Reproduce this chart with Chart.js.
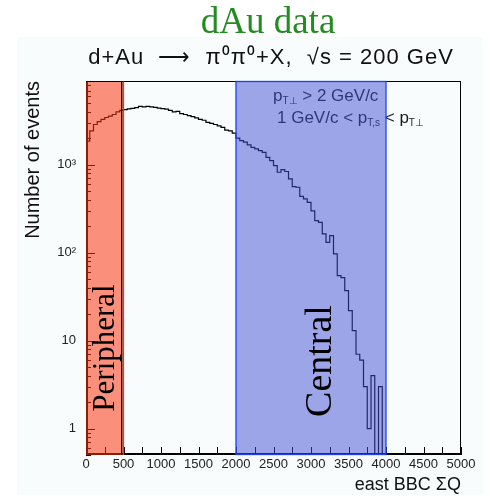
<!DOCTYPE html>
<html>
<head>
<meta charset="utf-8">
<script src="https://cdn.jsdelivr.net/npm/chart.js@4.4.1/dist/chart.umd.min.js"></script>
<style>
  html, body { margin: 0; padding: 0; background: #fff; }
  #wrap { width: 490px; height: 500px; }
</style>
</head>
<body>
<div id="wrap"><canvas id="bbc" width="490" height="500"></canvas></div>
<script>
// east BBC charge sum, lower bin edges (bins are 50 wide)
const binWidth = 50;
const binEdges = [
  0, 50, 100, 150, 200, 250, 300, 350, 400, 450,
  500, 550, 600, 650, 700, 750, 800, 850, 900, 950,
  1000, 1050, 1100, 1150, 1200, 1250, 1300, 1350, 1400, 1450,
  1500, 1550, 1600, 1650, 1700, 1750, 1800, 1850, 1900, 1950,
  2000, 2050, 2100, 2150, 2200, 2250, 2300, 2350, 2400, 2450,
  2500, 2550, 2600, 2650, 2700, 2750, 2800, 2850, 2900, 2950,
  3000, 3050, 3100, 3150, 3200, 3250, 3300, 3350, 3400, 3450,
  3500, 3550, 3600, 3650, 3700, 3750, 3800, 3850, 3900, 3950
];
// events per bin
const counts = [
  1860, 2440, 2880, 3100, 3300, 3460, 3580, 3740, 4000, 4170,
  4250, 4330, 4400, 4480, 4620, 4560, 4620, 4560, 4500, 4420,
  4360, 4300, 4170, 4000, 4060, 3830, 3740, 3630, 3530, 3420,
  3300, 3220, 3050, 2960, 2880, 2780, 2670, 2480, 2440, 2300,
  2010, 1890, 1810, 1690, 1585, 1520, 1455, 1390, 1220, 1120,
  980, 824, 884, 840, 692, 566, 556, 438, 410, 375,
  300, 232, 222, 164, 131, 157, 97, 55, 52, 37,
  22, 13, 7, 6, 3, 1, 4, 0, 3, 0
];
// centrality windows
const peripheralRange = [0, 500];
const centralRange = [2000, 4000];
// decade labels on the y axis
const yTickLabels = { 1: '1', 10: '10', 100: '10²', 1000: '10³' };

// empty bins fall through the bottom of the log axis
const shown = c => (c > 0 ? c : 0.1);
const points = binEdges.map((e, i) => ({ x: e, y: shown(counts[i]) }));
points.push({ x: binEdges[binEdges.length - 1] + binWidth, y: shown(counts[counts.length - 1]) });

function drawSubText(ctx, x, y, parts, size) {
  ctx.textAlign = 'left';
  ctx.textBaseline = 'alphabetic';
  for (const p of parts) {
    if (p.sub) {
      ctx.font = Math.round(size * 0.6) + 'px "Liberation Sans", Arial, sans-serif';
      ctx.fillText(p.t, x, y + size * 0.2);
    } else {
      ctx.font = size + 'px "Liberation Sans", Arial, sans-serif';
      ctx.fillText(p.t, x, y);
    }
    x += ctx.measureText(p.t).width;
  }
}

const decor = {
  id: 'decor',
  beforeDraw(chart) {
    const ctx = chart.ctx;
    ctx.save();
    ctx.fillStyle = '#fff';
    ctx.fillRect(0, 0, chart.width, chart.height);
    ctx.fillStyle = '#f8fcfc';
    ctx.fillRect(17, 37, 466, 458);

    ctx.textAlign = 'center';
    ctx.textBaseline = 'alphabetic';
    ctx.fillStyle = '#228b22';
    ctx.font = '37px "Liberation Serif", "Times New Roman", serif';
    ctx.fillText('dAu data', 268, 33);

    ctx.fillStyle = '#111';
    ctx.font = '22px "Liberation Sans", Arial, sans-serif';
    ctx.letterSpacing = '1px';
    ctx.fillText('d+Au  \u27F6  \u03C0\u2070\u03C0\u2070+X,  \u221As = 200 GeV', 271, 64);
    ctx.letterSpacing = '0px';
    ctx.restore();
  },
  afterDraw(chart) {
    const { ctx, chartArea: a, scales: { x, y } } = chart;
    ctx.save();

    // tick marks inside the frame
    ctx.strokeStyle = '#000';
    ctx.lineWidth = 1;
    ctx.beginPath();
    x.ticks.forEach(t => {
      const px = Math.round(x.getPixelForValue(t.value)) + 0.5;
      ctx.moveTo(px, a.bottom);
      ctx.lineTo(px, a.bottom - 8);
    });
    y.ticks.forEach(t => {
      const e = Math.floor(Math.log10(t.value) + 1e-9);
      const m = t.value / Math.pow(10, e);
      if (Math.abs(m - Math.round(m)) > 1e-6) return;
      const py = Math.round(y.getPixelForValue(t.value)) + 0.5;
      ctx.moveTo(a.left, py);
      ctx.lineTo(a.left + (Math.round(m) === 1 ? 9 : 5), py);
    });
    ctx.stroke();

    // frame
    ctx.lineWidth = 1;
    ctx.strokeRect(a.left + 0.5, a.top + 0.5, a.right - a.left - 1, a.bottom - a.top - 1);
    ctx.lineWidth = 2;
    ctx.beginPath();
    ctx.moveTo(a.left + 1, a.top);
    ctx.lineTo(a.left + 1, a.bottom - 1);
    ctx.lineTo(a.right, a.bottom - 1);
    ctx.stroke();

    // cut text
    ctx.fillStyle = '#1a1a1a';
    drawSubText(ctx, 273, 101, [{ t: 'p' }, { t: 'T\u22A5', sub: true }, { t: ' > 2 GeV/c' }], 17);
    drawSubText(ctx, 277, 123, [{ t: '1 GeV/c < p' }, { t: 'T,s', sub: true }, { t: ' < p' }, { t: 'T\u22A5', sub: true }], 17);

    // centrality windows laid over everything
    const pl = x.getPixelForValue(peripheralRange[0]);
    const pr = x.getPixelForValue(peripheralRange[1]);
    const cl = x.getPixelForValue(centralRange[0]);
    const cr = x.getPixelForValue(centralRange[1]);
    ctx.fillStyle = 'rgba(252,54,16,0.55)';
    ctx.fillRect(pl, a.top, pr - pl, a.bottom - a.top);
    ctx.fillStyle = 'rgba(66,78,214,0.5)';
    ctx.fillRect(cl, a.top, cr - cl, a.bottom - a.top);

    ctx.lineWidth = 1.2;
    ctx.strokeStyle = '#e03a20';
    ctx.beginPath();
    ctx.moveTo(pr, a.top); ctx.lineTo(pr, a.bottom);
    ctx.stroke();
    ctx.strokeStyle = '#000';
    ctx.beginPath();
    ctx.moveTo(pr - 1.8, a.top); ctx.lineTo(pr - 1.8, a.bottom);
    ctx.moveTo(pl, a.top + 0.5); ctx.lineTo(pr, a.top + 0.5);
    ctx.stroke();
    ctx.strokeStyle = '#1f3ff0';
    ctx.lineWidth = 1.3;
    ctx.strokeRect(cl, a.top + 0.5, cr - cl, a.bottom - a.top - 1);

    // region names
    ctx.fillStyle = '#000';
    ctx.textAlign = 'center';
    ctx.textBaseline = 'alphabetic';
    ctx.save();
    ctx.translate(113.5, 348);
    ctx.rotate(-Math.PI / 2);
    ctx.font = '31px "Liberation Serif", "Times New Roman", serif';
    ctx.fillText('Peripheral', 0, 0);
    ctx.restore();
    ctx.save();
    ctx.translate(331, 361);
    ctx.rotate(-Math.PI / 2);
    ctx.font = '38px "Liberation Serif", "Times New Roman", serif';
    ctx.fillText('Central', 0, 0);
    ctx.restore();

    ctx.restore();
  }
};

const ctx = document.getElementById('bbc').getContext('2d');
const chart = new Chart(ctx, {
  type: 'line',
  data: {
    datasets: [{
      label: 'events',
      data: points,
      stepped: 'before',
      borderColor: '#000',
      borderWidth: 1.2,
      pointRadius: 0,
      fill: false
    }]
  },
  options: {
    responsive: false,
    devicePixelRatio: 1,
    animation: false,
    layout: { padding: { top: 81, right: 29, left: 0, bottom: 0 } },
    plugins: { legend: { display: false }, tooltip: { enabled: false } },
    scales: {
      x: {
        type: 'linear',
        min: 0,
        max: 5000,
        grid: { display: false, drawTicks: false },
        border: { display: false },
        ticks: {
          stepSize: 250,
          autoSkip: false,
          maxRotation: 0,
          padding: 2,
          color: '#222',
          font: { family: '"Liberation Sans", Arial, sans-serif', size: 13 },
          callback: v => (v % 500 === 0 ? String(v) : '')
        },
        title: {
          display: true,
          text: 'east BBC \u03A3Q',
          align: 'end',
          color: '#111',
          padding: { top: 0, bottom: 4 },
          font: { family: '"Liberation Sans", Arial, sans-serif', size: 18 }
        },
        afterFit: s => { s.height = 45; }
      },
      y: {
        type: 'logarithmic',
        min: 0.5,
        max: 9000,
        grid: { display: false, drawTicks: false },
        border: { display: false },
        ticks: {
          autoSkip: false,
          padding: 10,
          color: '#222',
          font: { family: '"Liberation Sans", Arial, sans-serif', size: 13 },
          callback: v => yTickLabels[v] || ''
        },
        title: {
          display: true,
          text: 'Number of events',
          align: 'end',
          color: '#111',
          padding: { top: 21, bottom: 0 },
          font: { family: '"Liberation Sans", Arial, sans-serif', size: 20 }
        },
        afterFit: s => { s.width = 86; }
      }
    }
  },
  plugins: [decor]
});
</script>
</body>
</html>
